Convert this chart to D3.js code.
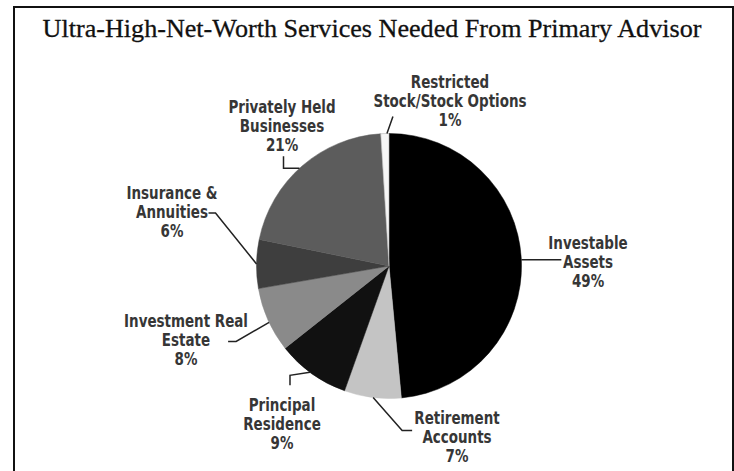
<!DOCTYPE html>
<html>
<head>
<meta charset="utf-8">
<script src="https://cdn.jsdelivr.net/npm/d3@7"></script>
<style>
  body { margin: 0; background: #fff; }
  svg { display: block; }
  .lbl { font-family: "Liberation Sans Narrow", "DejaVu Sans Condensed", "Arial Narrow", sans-serif; font-weight: bold; font-size: 17px; fill: #363636; }
</style>
</head>
<body>
<div id="chart"></div>
<script>
// dados do gráfico (sentido horário a partir do topo)
const categorias = [
  "Investable Assets",
  "Retirement Accounts",
  "Principal Residence",
  "Investment Real Estate",
  "Insurance & Annuities",
  "Privately Held Businesses",
  "Restricted Stock/Stock Options"
];
const valores = [49, 7, 9, 8, 6, 21, 1];
const rotulos = [
  ["Investable", "Assets", "49%"],
  ["Retirement", "Accounts", "7%"],
  ["Principal", "Residence", "9%"],
  ["Investment Real", "Estate", "8%"],
  ["Insurance &", "Annuities", "6%"],
  ["Privately Held", "Businesses", "21%"],
  ["Restricted", "Stock/Stock Options", "1%"]
];
const cores = ["#000000", "#c4c4c4", "#111111", "#8a8a8a", "#3e3e3e", "#5c5c5c", "#f6f6f6"];

// layout dos rótulos: t = posição dentro da fatia, pontos relativos à âncora,
// centro do rótulo relativo ao centro da pizza
const layout = [
  { t: 0.50, path: [[40, 0]], lx: 199, ly: -23 },
  { t: 0.49, path: [[29, 33], [39, 33]], lx: 68, ly: 152 },
  { t: 0.53, path: [[-20, 3], [-20, 13]], lx: -107, ly: 139 },
  { t: 0.46, path: [[-33, 19], [-41, 19]], lx: -203, ly: 55 },
  { t: 0.50, path: [[-41, -51], [-48, -51]], lx: -217, ly: -73 },
  { t: 0.48, path: [[-16, 0], [-16, -12]], lx: -107, ly: -159 },
  { t: 0.75, path: [[6, -17]], lx: 61, ly: -184 }
];

const W = 734, H = 471;
const cx = 389, cy = 266, raio = 132.5;

const svg = d3.select("#chart").append("svg")
  .attr("width", W)
  .attr("height", H);

// moldura
svg.append("path")
  .attr("d", `M14,${H} L14,7 L733,7 L733,${H}`)
  .attr("fill", "none")
  .attr("stroke", "#111")
  .attr("stroke-width", 2);

// título
const titulo = svg.append("text")
  .attr("x", 372)
  .attr("y", 37)
  .attr("text-anchor", "middle")
  .style("font-family", "'Liberation Serif', 'DejaVu Serif', serif")
  .style("font-size", "24px")
  .style("fill", "#111")
  .style("stroke", "#111")
  .style("stroke-width", 0.3)
  .text("Ultra-High-Net-Worth Services Needed From Primary Advisor");
const larg = titulo.node().getComputedTextLength();
titulo.style("font-size", (24 * 659 / larg).toFixed(2) + "px");

const dados = categorias.map((c, i) => ({ nome: c, valor: valores[i], i }));

const pie = d3.pie()
  .sort(null)
  .value(d => d.valor);

const arc = d3.arc()
  .innerRadius(0)
  .outerRadius(raio);

const arcos = pie(dados);

const g = svg.append("g")
  .attr("transform", `translate(${cx},${cy})`);

g.selectAll("path.fatia")
  .data(arcos)
  .join("path")
  .attr("class", "fatia")
  .attr("d", arc)
  .attr("fill", d => cores[d.data.i])
  .attr("stroke", d => d.data.i === 6 ? "#b0b0b0" : cores[d.data.i])
  .attr("stroke-width", d => d.data.i === 6 ? 0.6 : 0.5);

// linhas guia e rótulos
arcos.forEach(a => {
  const L = layout[a.data.i];
  const ang = a.startAngle + L.t * (a.endAngle - a.startAngle);
  const ax = Math.sin(ang) * raio;
  const ay = -Math.cos(ang) * raio;
  const pts = [[ax, ay]].concat(L.path.map(p => [ax + p[0], ay + p[1]]));

  g.append("path")
    .attr("d", d3.line()(pts))
    .attr("fill", "none")
    .attr("stroke", "#222")
    .attr("stroke-width", 1.5);

  // fonte condensada: estreita um pouco na horizontal
  const txt = g.append("text")
    .attr("class", "lbl")
    .attr("text-anchor", "middle")
    .attr("transform", `translate(${L.lx},${L.ly}) scale(0.88,1)`);
  rotulos[a.data.i].forEach((linha, k) => {
    txt.append("tspan")
      .attr("x", 0)
      .attr("y", k * 19 + 6)
      .text(linha);
  });
});
</script>
</body>
</html>
